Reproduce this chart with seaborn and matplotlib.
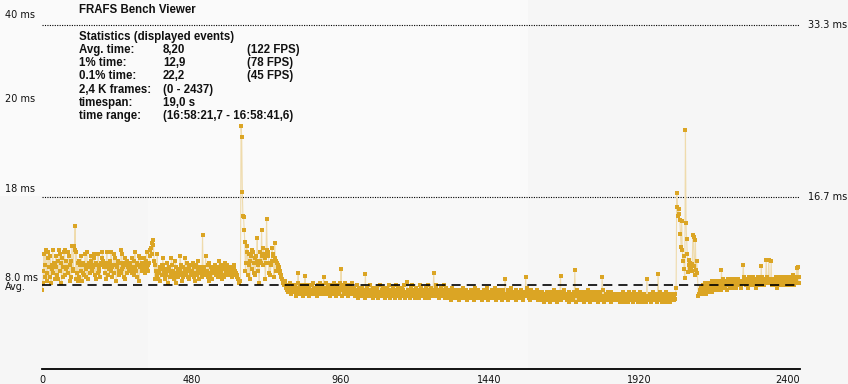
import matplotlib
matplotlib.use("Agg")
import matplotlib.pyplot as plt
import matplotlib.patches as mpatches
import numpy as np
import pandas as pd
import seaborn as sns

# ---------------- data ----------------
# per-frame times sampled every 2nd frame, one char per sample
CODE = "0123456789abcdefghijklmnopqrstuvwxyz"   # char -> 5.0 ms + 0.2 ms * index
CODE_BASE_MS = 5.0
CODE_STEP_MS = 0.2

seg_a_start = 0
seg_a = ("ehnvkqxmitwpkuhqoxmr" "qjuplsjxvnrhtpkwxlos" "pmwuiqksznolxqjwmrik"
         "sqnuimrlqvokwjqprmus" "nqpvtlrjqmvpnkrqtwsp" "qmjrwplqosnwkpqvmtqi"
         "pqslnrmxvopkrtjqsmpo" "nrqpmtoslwpnrkquiptq" "rnpqtmoswpqnrxuyvsrq")
seg_b_start = 360
seg_b = ("sjqnlvjmnpioqltqnjol" "mrohpnkmtqnljmsphlnk" "onuqlipkmotnlrnkjpnq"
         "lnrmkpiqmlsojmpnokhl" "nplumnkqirlmpnjonmql" "mnpkoslqmjolpkrnoqln"
         "omnlpkmnqolnmlkjihii")
seg_c_start = 640
seg_c = ("kkkkkk" "xnrzwlqvjsuoxwmrtlusxnqhswrkuqyvtjrqxuwmrlqsyuvkqtnsrq" "opmnkljihg")
seg_d1_start = 780
seg_d1 = ("ihgfegdfhefcegdfgebfdhecfgdefbdgehcfdegfbecdghefdcfebgdfehcdfgebdcfhedgcfbedgfce"
          "hdbfegdcfhedbgfecdhgfebdcfgeh")
seg_d2_start = 1000
seg_d2 = ("cdfbedcgadfecbdfcedagcbfdecbgdcefadbcdfeacbdgcedfbcadecfbdgacdebfcdaecgbdfcaedbf"
          "cegdabcfdecbadfgcebdacfdebcagdfcebdcafdbegcadfbcdeacbfgdcebadcfebdcgafd")
seg_d3_start = 1300
seg_d3 = ("bcdaecb9dcfabcedacbd9ecbadcfbacde9bcadbcecabd9fcbadcebacd9bcaecbdfac9bdcaebcdabf"
          "c9dbaecbcd9aebcdacbe9dcabfcdbacc9ebdcabdcea9bcdbacfdbca9cedbacdbcae9bd")
seg_d4_start = 1600
seg_d4 = ("ab9cbda8bcabd9acb8dabcbe9abca8dbacb9dabcebaa9cbd8abcab9dcab8ebcab9adbca8cbdab9ec"
          "ab8adbca9bcdab8cabd9acbe8abca9dbcab8dacb9abc")
seg_d5_start = 1850
seg_d5 = "a9ba8cab9da8bac9ab8dab9ca8bda9cab89abdca8ba9cab8da9bac8ab9dca9ab8cab9dab8ac9bad8ab9ca8ba9c"
seg_f1_start = 2112
seg_f1 = "bcedfcegdfehcfgdehfegidfhegfihegfhigehfjgihfgiehjgfihgjfhigjhfigjhgiif"
seg_f2_start = 2252
seg_f2 = "higjkhigjhfikhgjihkgijhfigkhjigihkjgihjfikhgjihkgjihjgkihfjigkhijhgkjihgjikhjgikhjligkhjikjhk"

# second spike block (frames 2030..2108, every 2nd frame), ms
seg_e_start = 2030
seg_e_ms = [7.1, 6.8, 7.3, 6.9, 7.4, 8.0, 17.1, 15.8, 14.9, 15.6, 15.1, 14.5, 13.2, 11.9,
            14.4, 11.6, 10.6, 11.0, 9.8, 8.9, 23.2, 14.2, 12.7, 11.2, 9.5, 10.2, 10.7, 9.9,
            10.4, 10.0, 9.6, 10.3, 13.1, 12.9, 10.1, 9.2, 12.6, 9.7, 10.6, 9.4]

# isolated spikes (frame, ms)
spike_frames = [102, 106, 354, 356, 358, 516,
                640, 642, 644, 646, 648, 650, 652, 692, 706, 722, 748,
                824, 846, 906, 962, 1040, 1174, 1260, 1490, 1556, 1668, 1714, 1802, 1946, 1982,
                2186, 2256, 2314, 2330, 2338, 2346, 2428, 2432]
spike_ms = [12.0, 13.9, 12.3, 12.6, 12.1, 13.1,
            23.6, 22.5, 17.2, 14.9, 14.8, 13.5, 12.4, 12.8, 13.5, 14.6, 12.3,
            9.4, 9.1, 9.0, 9.8, 9.3, 8.5, 9.4, 8.8, 9.0, 9.1, 9.7, 9.0, 8.8, 9.3,
            9.7, 10.2, 10.1, 10.7, 10.7, 10.6, 9.85, 10.0]

avg_ms = 8.20
ref_lines_ms = [33.3, 16.7]
ref_labels = ["33.3 ms", "16.7 ms"]
xticks = [0, 480, 960, 1440, 1920, 2400]
left_labels = ["40 ms", "20 ms", "18 ms", "8.0 ms", "Avg."]

title = "FRAFS Bench Viewer"
stats_head = "Statistics (displayed events)"
stats_col1 = ["Avg. time:", "1% time:", "0.1% time:", "2,4 K frames:", "timespan:", "time range:"]
stats_col2 = ["8,20", "12,9", "22,2", "(0 - 2437)", "19,0 s", "(16:58:21,7 - 16:58:41,6)"]
stats_col3 = ["(122 FPS)", "(78 FPS)", "(45 FPS)", "", "", ""]

# ---------------- assemble ----------------
series = {}
for start, s in [(seg_a_start, seg_a), (seg_b_start, seg_b), (seg_c_start, seg_c),
                 (seg_d1_start, seg_d1), (seg_d2_start, seg_d2), (seg_d3_start, seg_d3),
                 (seg_d4_start, seg_d4), (seg_d5_start, seg_d5),
                 (seg_f1_start, seg_f1), (seg_f2_start, seg_f2)]:
    for j, ch in enumerate(s):
        series[start + 2 * j] = CODE_BASE_MS + CODE_STEP_MS * CODE.index(ch)
for j, v in enumerate(seg_e_ms):
    series[seg_e_start + 2 * j] = v
for f, v in zip(spike_frames, spike_ms):
    series[f] = v
frames = sorted(series)
df = pd.DataFrame({"frame": frames, "ms": [series[f] for f in frames]})

# ---------------- figure ----------------
W, H = 848, 384
sns.set_style("white")
plt.rcParams["font.family"] = ["Liberation Sans", "DejaVu Sans"]
fig = plt.figure(figsize=(W / 100, H / 100), dpi=100, facecolor="#f6f6f6")

def fx(px):
    return px / W

def fy(py):
    return 1 - py / H

# subtle background panels (behind the axes)
fig.patches.append(mpatches.Rectangle((0, fy(196)), fx(528), 196 / H, transform=fig.transFigure,
                                      facecolor="#fafafa", edgecolor="none", zorder=-5))
fig.patches.append(mpatches.Rectangle((fx(148), fy(370)), fx(380), (370 - 196) / H,
                                      transform=fig.transFigure,
                                      facecolor="#f8f8f8", edgecolor="none", zorder=-5))

ax_left, ax_right = 42.2, 800.4
ax_bot, ax_top = 368.7, 0.0
ax = fig.add_axes([fx(ax_left), fy(ax_bot), (ax_right - ax_left) / W, (ax_bot - ax_top) / H])
ax.set_zorder(5)
ax.set_facecolor("none")
ax.patch.set_alpha(0)
ax.set_xlim(0, 2440)
ax.set_ylim(0.18, 35.70)

line_col = "#efdbac"
dot_col = "#dba524"
sns.lineplot(data=df, x="frame", y="ms", ax=ax, color=line_col, linewidth=0.8, zorder=2)
sns.scatterplot(data=df, x="frame", y="ms", ax=ax, color=dot_col, marker="s", s=5.2,
                linewidth=0, zorder=3)

# reference lines
for v in ref_lines_ms:
    ax.hlines(v, 0, 2435, colors="black", linewidth=0.8, linestyles=(0, (1, 1.2)), zorder=1)
ax.hlines(avg_ms, 0, 2440, colors="black", linewidth=1.2, linestyles=(0, (5.5, 3.6)), zorder=4)

for sp in ["top", "left", "right"]:
    ax.spines[sp].set_visible(False)
ax.spines["bottom"].set_color("black")
ax.spines["bottom"].set_linewidth(1.3)
ax.set_yticks([])
ax.set_xticks(xticks)
ax.set_xticklabels([str(t) for t in xticks], fontsize=7,
                   family=["Liberation Sans Narrow", "DejaVu Sans"], color="#111111")
ax.tick_params(axis="x", direction="out", length=4, width=0.8, pad=0.5, color="black")
ax.set_xlabel("")
ax.set_ylabel("")

small = dict(fontsize=7, family=["Liberation Sans Narrow", "DejaVu Sans"], color="#111111",
             va="center", ha="left")
for lab, ypx in zip(left_labels, [14.7, 98.7, 189.0, 278.0, 286.5]):
    fig.text(fx(5), fy(ypx), lab, **small)
for lab, ypx in zip(ref_labels, [25.0, 197.3]):
    fig.text(fx(808), fy(ypx), lab, **small)

bold = dict(fontsize=8.3, fontweight="bold", color="#111111", va="center", ha="left")
fig.text(fx(79), fy(10), title, **bold)
fig.text(fx(79), fy(37), stats_head, **bold)
rows_y = [50, 63, 76, 90, 103, 116]
for c1, c2, c3, ypx in zip(stats_col1, stats_col2, stats_col3, rows_y):
    fig.text(fx(79), fy(ypx), c1, **bold)
    fig.text(fx(163), fy(ypx), c2, **bold)
    if c3:
        fig.text(fx(247), fy(ypx), c3, **bold)

fig.savefig("out.png", dpi=100, facecolor=fig.get_facecolor())
